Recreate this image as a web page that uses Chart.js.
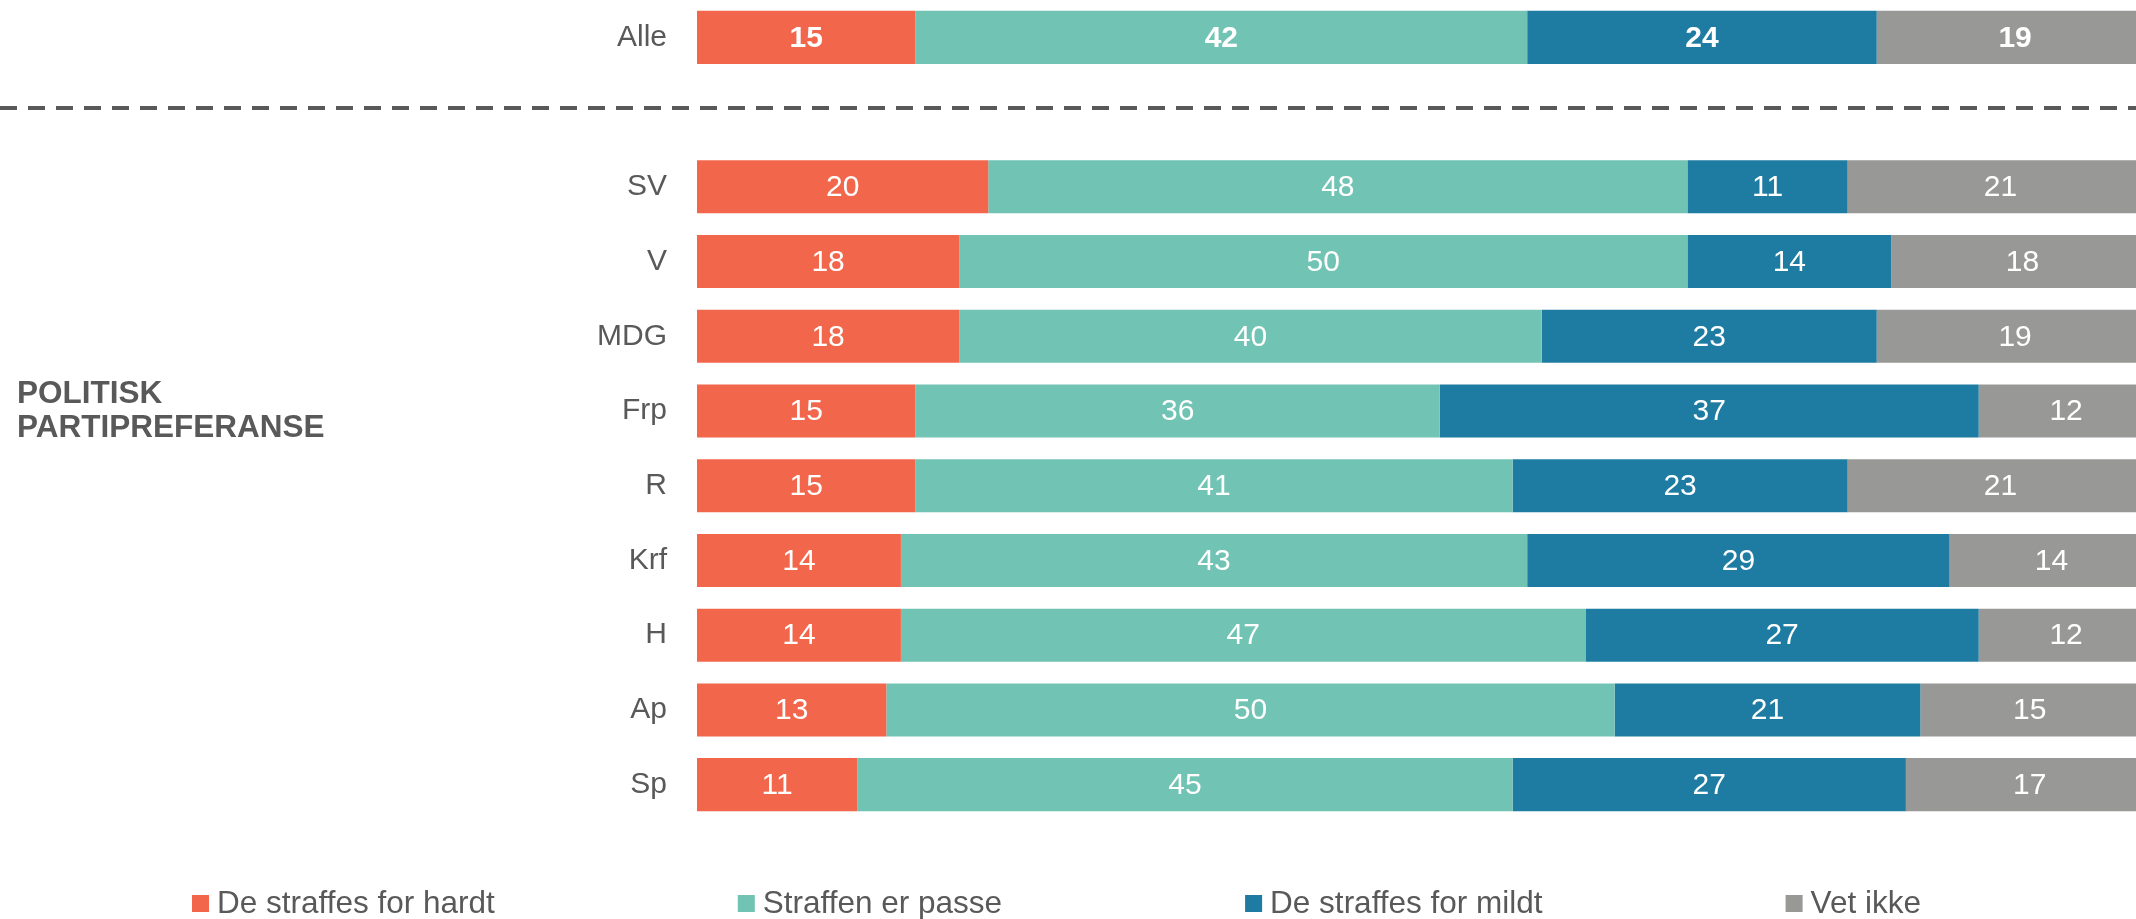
<!DOCTYPE html>
<html>
<head>
<meta charset="utf-8">
<script src="https://cdn.jsdelivr.net/npm/chart.js@4"></script>
<style>
    body { margin: 0; background: #fff; }
    #wrap { width: 2136px; height: 919px; position: relative; }
</style>
</head>
<body>
<div id="wrap"><canvas id="straffChart"></canvas></div>
<script>
// Rows (first is the total, the rest are party preferences)
const rows = ['Alle', 'SV', 'V', 'MDG', 'Frp', 'R', 'Krf', 'H', 'Ap', 'Sp'];

// Answer shares in percent
const forHardt = [15, 20, 18, 18, 15, 15, 14, 14, 13, 11];
const erPasse  = [42, 48, 50, 40, 36, 41, 43, 47, 50, 45];
const forMildt = [24, 11, 14, 23, 37, 23, 29, 27, 21, 27];
const vetIkke  = [19, 21, 18, 19, 12, 21, 14, 12, 15, 17];

const seriesNames = ['De straffes for hardt', 'Straffen er passe', 'De straffes for mildt', 'Vet ikke'];
const seriesColors = ['#F2674B', '#71C3B3', '#1E7CA2', '#989997'];

const groupLabel = ['POLITISK', 'PARTIPREFERANSE'];

const FONT = '"Liberation Sans", Arial, sans-serif';
const GREY = '#595959';

// empty slot between "Alle" and the party rows
const labels = [rows[0], '', ...rows.slice(1)];
const withGap = arr => [arr[0], null, ...arr.slice(1)];

const datasets = [forHardt, erPasse, forMildt, vetIkke].map((vals, i) => ({
    label: seriesNames[i],
    data: withGap(vals),
    backgroundColor: seriesColors[i],
    borderWidth: 0,
    barPercentage: 0.71,
    categoryPercentage: 1
}));

// Numbers inside the bars
const valueLabels = {
    id: 'valueLabels',
    afterDatasetsDraw(chart) {
        const ctx = chart.ctx;
        ctx.save();
        ctx.fillStyle = '#fff';
        ctx.textAlign = 'center';
        ctx.textBaseline = 'middle';
        chart.data.datasets.forEach((ds, di) => {
            chart.getDatasetMeta(di).data.forEach((bar, i) => {
                const v = ds.data[i];
                if (v === null) return;
                const p = bar.getProps(['x', 'base', 'y'], true);
                ctx.font = (i === 0 ? 'bold ' : '') + '30px ' + FONT;
                ctx.fillText(String(v), (p.x + p.base) / 2, p.y + 1);
            });
        });
        ctx.restore();
    }
};

// Dashed separator, group title and legend
const extras = {
    id: 'extras',
    afterDraw(chart) {
        const ctx = chart.ctx;
        const yScale = chart.scales.y;
        ctx.save();

        // separator under "Alle"
        const yLine = yScale.getPixelForValue(1) - 4;
        ctx.strokeStyle = GREY;
        ctx.lineWidth = 4;
        ctx.setLineDash([17, 11]);
        ctx.beginPath();
        ctx.moveTo(0, yLine);
        ctx.lineTo(chart.width, yLine);
        ctx.stroke();
        ctx.setLineDash([]);

        // group title on the left
        const yFrp = yScale.getPixelForValue(labels.indexOf('Frp'));
        ctx.fillStyle = GREY;
        ctx.font = 'bold 31.5px ' + FONT;
        ctx.textAlign = 'left';
        ctx.textBaseline = 'middle';
        ctx.fillText(groupLabel[0], 17, yFrp - 17);
        ctx.fillText(groupLabel[1], 17, yFrp + 17);

        // legend
        ctx.font = '31.5px ' + FONT;
        let x = 192;
        const yLeg = 903;
        seriesNames.forEach((name, i) => {
            ctx.fillStyle = seriesColors[i];
            ctx.fillRect(x, yLeg - 8, 17, 17);
            ctx.fillStyle = GREY;
            ctx.fillText(name, x + 25, yLeg + 1);
            x += 25 + ctx.measureText(name).width + 243;
        });

        ctx.restore();
    }
};

const chartCtx = document.getElementById('straffChart').getContext('2d');
const straffChart = new Chart(chartCtx, {
    type: 'bar',
    data: { labels: labels, datasets: datasets },
    options: {
        indexAxis: 'y',
        responsive: true,
        maintainAspectRatio: false,
        animation: false,
        layout: { padding: { top: 0, right: 0, bottom: 97, left: 0 } },
        scales: {
            x: {
                stacked: true,
                min: 0,
                max: 98.8,
                display: false
            },
            y: {
                stacked: true,
                grid: { display: false, drawTicks: false },
                border: { display: false },
                ticks: {
                    color: GREY,
                    padding: 30,
                    font: { family: FONT, size: 30 }
                },
                afterFit(scale) {
                    scale.width = 697;
                    scale.paddingTop = 0;
                    scale.paddingBottom = 0;
                }
            }
        },
        plugins: {
            legend: { display: false },
            tooltip: { enabled: false }
        }
    },
    plugins: [valueLabels, extras]
});
</script>
</body>
</html>
